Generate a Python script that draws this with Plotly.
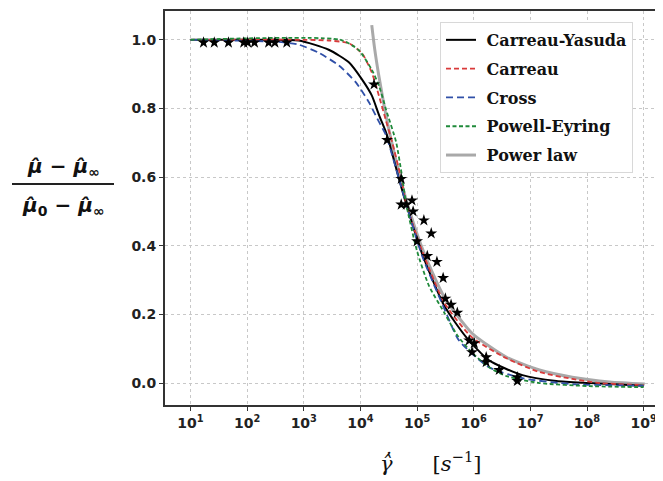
import numpy as np
import plotly.graph_objects as go

# ---- data; x given as log10 of shear rate ----
star_logx = [1.23, 1.42, 1.67, 1.94, 2.01, 2.13, 2.38, 2.49, 2.70,
             4.24, 4.47, 4.72, 4.72, 4.81, 4.91, 4.93, 5.12, 5.25, 5.00,
             5.18, 5.35, 5.46, 5.50, 5.60, 5.71, 5.92, 6.01, 5.97, 6.22,
             6.22, 6.45, 6.77, 6.77]
star_y = [0.992, 0.992, 0.992, 0.992, 0.992, 0.992, 0.992, 0.992, 0.992,
          0.870, 0.708, 0.595, 0.520, 0.520, 0.532, 0.500, 0.474, 0.436, 0.413,
          0.370, 0.353, 0.306, 0.246, 0.228, 0.205, 0.124, 0.116, 0.090, 0.075,
          0.061, 0.038, 0.017, 0.006]

cy_logx = [1.0, 2.0, 2.91, 3.44, 3.80, 4.03, 4.20, 4.33, 4.45, 4.50, 4.68, 4.81,
           5.09, 5.48, 5.87, 6.27, 6.86, 7.46, 8.04, 9.0]
cy_y = [1.0, 1.0, 0.998, 0.971, 0.934, 0.884, 0.838, 0.780, 0.731, 0.705, 0.595, 0.520,
        0.376, 0.225, 0.133, 0.066, 0.023, 0.006, 0.0, -0.008]

carreau_logx = [1.0, 3.0, 3.44, 3.80, 4.03, 4.20, 4.33, 4.45, 4.56, 4.72, 4.81,
                5.09, 5.48, 5.97, 6.58, 7.16, 7.74, 8.22, 9.0]
carreau_y = [1.0, 1.0, 0.998, 0.99, 0.96, 0.905, 0.835, 0.765, 0.702, 0.595, 0.520,
             0.385, 0.234, 0.133, 0.072, 0.032, 0.012, 0.0, -0.006]

cross_logx = [1.0, 2.03, 2.56, 2.91, 3.27, 3.62, 3.92, 4.15, 4.33, 4.45, 4.68, 4.81,
              5.09, 5.48, 5.74, 6.27, 6.86, 7.74, 9.0]
cross_y = [1.0, 0.997, 0.994, 0.986, 0.962, 0.925, 0.876, 0.818, 0.760, 0.723, 0.595, 0.520,
           0.370, 0.217, 0.124, 0.046, 0.014, -0.003, -0.008]

pe_logx = [1.0, 3.65, 3.97, 4.20, 4.33, 4.45, 4.63, 4.73, 4.81, 5.00, 5.21, 5.48,
           5.71, 5.96, 6.27, 6.58, 7.16, 8.04, 9.0]
pe_y = [1.0, 1.0, 0.97, 0.913, 0.865, 0.798, 0.702, 0.607, 0.520, 0.384, 0.283, 0.205,
        0.139, 0.090, 0.046, 0.020, 0.0, -0.009, -0.012]

pl_logx = [4.20, 4.25, 4.32, 4.40, 4.50, 4.60, 4.73, 4.86, 5.12, 5.48, 5.97, 6.58,
           7.16, 7.74, 8.40, 9.02]
pl_y = [1.043, 0.975, 0.900, 0.825, 0.740, 0.668, 0.580, 0.505, 0.380, 0.250, 0.145, 0.075,
        0.038, 0.017, 0.003, -0.003]

tick_exp = [1, 2, 3, 4, 5, 6, 7, 8, 9]
tick_text = [f"10<sup>{e}</sup>" for e in tick_exp]
ytick_vals = [0.0, 0.2, 0.4, 0.6, 0.8, 1.0]
ytick_text = ["0.0", "0.2", "0.4", "0.6", "0.8", "1.0"]


def X(lx):
    return np.power(10.0, np.array(lx))


NB = "\u00a0"
fig = go.Figure()

fig.add_trace(go.Scatter(x=X(pl_logx), y=pl_y, mode="lines", name=NB + "Power law",
                         line=dict(color="#a9a9a9", width=3, shape="spline", smoothing=0.6),
                         legendgroup="e", legendrank=5))
fig.add_trace(go.Scatter(x=X(cy_logx), y=cy_y, mode="lines", name=NB + "Carreau-Yasuda",
                         line=dict(color="black", width=2, shape="spline", smoothing=0.6),
                         legendgroup="a", legendrank=1))
fig.add_trace(go.Scatter(x=X(carreau_logx), y=carreau_y, mode="lines", name=NB + "Carreau",
                         line=dict(color="#d93a3a", width=1.8, dash="5px,3px", shape="spline", smoothing=0.6),
                         legendgroup="b", legendrank=2))
fig.add_trace(go.Scatter(x=X(cross_logx), y=cross_y, mode="lines", name=NB + "Cross",
                         line=dict(color="#3050a8", width=1.8, dash="7px,4px", shape="spline", smoothing=0.6),
                         legendgroup="c", legendrank=3))
fig.add_trace(go.Scatter(x=X(pe_logx), y=pe_y, mode="lines", name=NB + "Powell-Eyring",
                         line=dict(color="#1f8a3a", width=1.8, dash="4px,2.5px", shape="spline", smoothing=0.6),
                         legendgroup="d", legendrank=4))
fig.add_trace(go.Scatter(x=X(star_logx), y=star_y, mode="markers", showlegend=False,
                         marker=dict(symbol="star", size=9, color="black")))

tickfont = dict(family="DejaVu Sans", size=14, color="#222222", weight="bold")

fig.update_xaxes(type="log", range=[0.55, 9.2], tickvals=X(tick_exp), ticktext=tick_text,
                 tickfont=tickfont, ticks="outside", ticklen=4, tickcolor="#333",
                 showgrid=True, gridcolor="#c8c8c8", griddash="dot", gridwidth=1,
                 showline=True, linecolor="#333333", linewidth=2, mirror=True, zeroline=False)
fig.update_yaxes(range=[-0.064, 1.084], tickvals=ytick_vals, ticktext=ytick_text,
                 tickfont=tickfont, ticks="outside", ticklen=4, tickcolor="#333",
                 showgrid=True, gridcolor="#c8c8c8", griddash="dot", gridwidth=1,
                 showline=True, linecolor="#333333", linewidth=2, mirror=True, zeroline=False)

OFF = 8  # page offset of the figure inside the browser window
W, H = 655, 473
L, R, T, B = 157, 8, 1, 76
pw, ph = W - L - R, H - T - B


def px(xp):
    return (xp - OFF - L) / pw


def py(yp):
    return (H - B - (yp - OFF)) / ph


ylab_font = dict(family="DejaVu Sans", size=20, color="#111111")
fig.add_annotation(xref="paper", yref="paper", x=px(63), y=py(166), showarrow=False,
                   text="<b><i>μ̂</i> − <i>μ̂</i><sub>∞</sub></b>", font=ylab_font,
                   xanchor="center", yanchor="middle")
fig.add_annotation(xref="paper", yref="paper", x=px(63), y=py(205), showarrow=False,
                   text="<b><i>μ̂</i><sub>0</sub> − <i>μ̂</i><sub>∞</sub></b>", font=ylab_font,
                   xanchor="center", yanchor="middle")
fig.add_shape(type="line", xref="paper", yref="paper", x0=px(12), x1=px(114),
              y0=py(183), y1=py(183), line=dict(color="#222222", width=2))

fig.add_annotation(xref="paper", yref="paper", x=px(430), y=py(462), showarrow=False,
                   text="<i>γ̂̇</i>      [<i>s</i><sup>−1</sup>]",
                   font=dict(family="DejaVu Serif", size=21, color="#111111"),
                   xanchor="center", yanchor="middle")

fig.update_layout(
    width=W, height=H, margin=dict(l=L, r=R, t=T, b=B),
    paper_bgcolor="white", plot_bgcolor="white",
    legend=dict(x=px(440), y=py(20), xanchor="left", yanchor="top",
                bgcolor="white", bordercolor="#d8d8d8", borderwidth=1,
                font=dict(family="DejaVu Serif", size=16, color="#111111", weight="bold"),
                tracegroupgap=5, itemwidth=30),
)

fig.write_html("out.html")
